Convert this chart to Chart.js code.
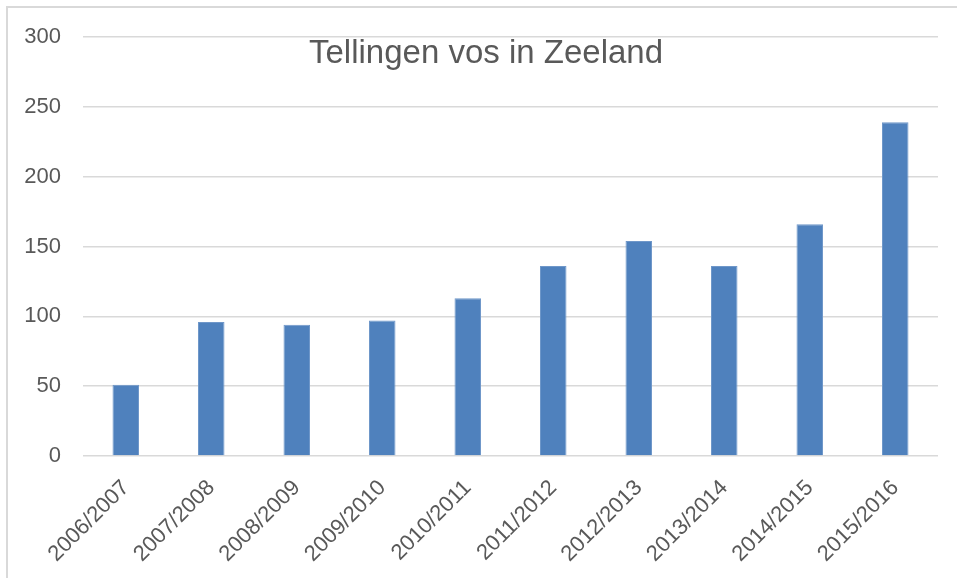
<!DOCTYPE html>
<html>
<head>
<meta charset="utf-8">
<script src="https://cdn.jsdelivr.net/npm/chart.js@4.4.1/dist/chart.umd.min.js"></script>
<style>
  html, body { margin: 0; padding: 0; background: #fff; }
  #wrap { position: relative; width: 957px; height: 578px; overflow: hidden; }
  #frame { position: absolute; left: 6px; top: 6px; width: 1000px; height: 1000px;
           border-left: 2px solid #d9d9d9; border-top: 2px solid #d9d9d9; pointer-events: none; }
  canvas { position: absolute; left: 0; top: 0; }
</style>
</head>
<body>
<div id="wrap">
  <canvas id="grafiek" width="957" height="578"></canvas>
  <div id="frame"></div>
</div>
<script>
// gegevens uit de grafiek
const seizoenen = ["2006/2007", "2007/2008", "2008/2009", "2009/2010", "2010/2011",
                   "2011/2012", "2012/2013", "2013/2014", "2014/2015", "2015/2016"];
const aantalVossen = [51, 96, 94, 97, 113, 136, 154, 136, 166, 239];
const yTicks = [0, 50, 100, 150, 200, 250, 300];
const titel = "Tellingen vos in Zeeland";

document.addEventListener('DOMContentLoaded', (event) => {
    Chart.defaults.font.family = "'Liberation Sans', Arial, sans-serif";
    Chart.defaults.color = "#595959";

    // titel over het plotgebied heen, zoals in Excel
    const titelPlugin = {
        id: "titelPlugin",
        afterDraw: (chart) => {
            const ctx = chart.ctx;
            ctx.save();
            ctx.font = "33px 'Liberation Sans', Arial, sans-serif";
            ctx.fillStyle = "#595959";
            ctx.textAlign = "center";
            ctx.textBaseline = "alphabetic";
            ctx.fillText(titel, 486, 63);
            ctx.restore();
        }
    };

    const data = {
        labels: seizoenen,
        datasets: [
            {
                label: "Vos",
                data: aantalVossen,
                backgroundColor: "#4f81bd",
                borderColor: "#6f97c9",
                borderWidth: 1,
                barPercentage: 0.31,
                categoryPercentage: 1,
            },
        ],
    };

    const config = {
        type: "bar",
        data: data,
        options: {
            responsive: false,
            animation: false,
            layout: {
                padding: { left: 0, top: 37, right: 19, bottom: 0 },
            },
            plugins: {
                legend: { display: false },
                title: { display: false },
                tooltip: { enabled: false },
            },
            scales: {
                x: {
                    grid: { display: false, drawTicks: false },
                    border: { display: false },
                    ticks: {
                        font: { size: 22 },
                        color: "#595959",
                        minRotation: 45,
                        maxRotation: 45,
                        padding: 19,
                        autoSkip: false,
                    },
                    afterFit: (scale) => { scale.height = 122; },
                },
                y: {
                    min: 0,
                    max: 300,
                    afterBuildTicks: (scale) => {
                        scale.ticks = yTicks.map((v) => ({ value: v }));
                    },
                    grid: { color: "#d9d9d9", lineWidth: 1.5, drawTicks: false },
                    border: { display: false },
                    ticks: {
                        font: { size: 22 },
                        color: "#595959",
                        padding: 22,
                    },
                    afterFit: (scale) => { scale.width = 83; },
                },
            },
        },
        plugins: [titelPlugin],
    };

    const grafiek = new Chart(document.getElementById("grafiek"), config);
});
</script>
</body>
</html>
